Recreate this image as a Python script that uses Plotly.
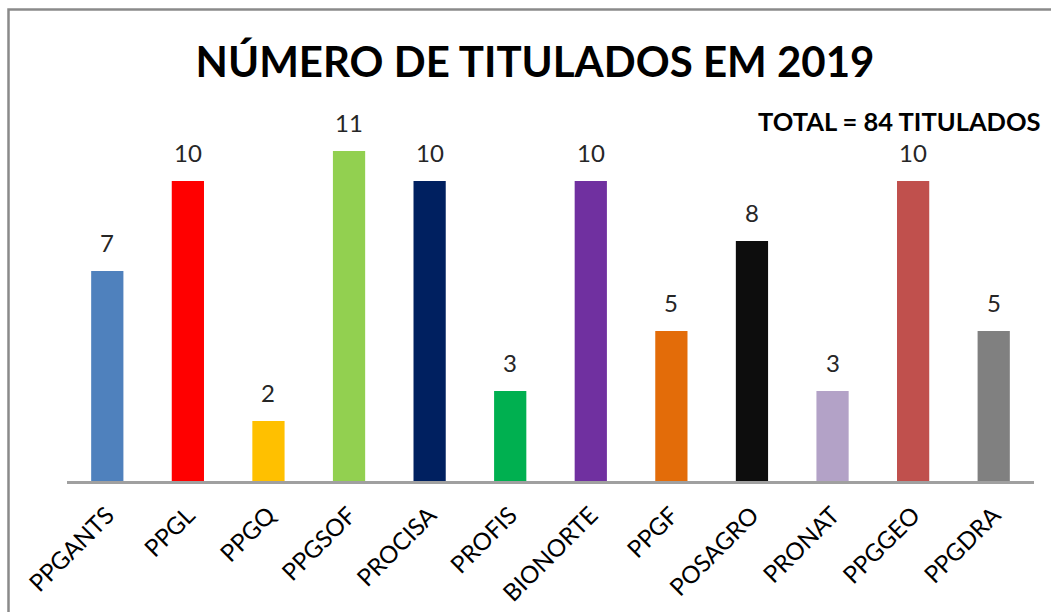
import plotly.graph_objects as go

categories = ["PPGANTS", "PPGL", "PPGQ", "PPGSOF", "PROCISA", "PROFIS",
              "BIONORTE", "PPGF", "POSAGRO", "PRONAT", "PPGGEO", "PPGDRA"]
values = [7, 10, 2, 11, 10, 3, 10, 5, 8, 3, 10, 5]
colors = ["#4F81BD", "#FF0000", "#FFC000", "#92D050", "#002060", "#00B050",
          "#7030A0", "#E36C09", "#0D0D0D", "#B3A2C7", "#C0504D", "#808080"]
title_text = "NÚMERO DE TITULADOS EM 2019"
total_text = "TOTAL = 84 TITULADOS"

W, H = 1051, 612
L, R, T, B = 67, 17, 100, 131
pw, ph = W - L - R, H - T - B

def px_x(x):
    return (x - L) / pw

def px_y(y):
    return (H - B - y) / ph

fig = go.Figure(go.Bar(
    x=categories, y=values,
    marker=dict(color=colors, line=dict(width=0)),
    hoverinfo="x+y",
))

value_annotations = [
    dict(x=c, y=v, xref="x", yref="y", text=str(v), showarrow=False,
         xanchor="center", yanchor="bottom", yshift=12,
         font=dict(family="Lato", size=24, color="#262626"))
    for c, v in zip(categories, values)
]

fig.update_layout(
    width=W, height=H,
    margin=dict(l=L, r=R, t=T, b=B),
    paper_bgcolor="white", plot_bgcolor="white",
    bargap=0.6,
    showlegend=False,
    title=dict(text=title_text, x=535 / W, xanchor="center",
               y=1 - 62 / H, yanchor="middle",
               font=dict(family="Lato", size=42, color="#000000", weight="bold"),
               automargin=False),
    xaxis=dict(showgrid=False, showline=True, linecolor="#A0A0A0", linewidth=2.5,
               tickangle=-45, tickfont=dict(family="Lato", size=24, color="#000000"),
               ticks="", ticklabelstandoff=8, fixedrange=True, automargin=False),
    yaxis=dict(range=[0, ph / 30], showgrid=False, showline=False, zeroline=False,
               showticklabels=False, ticks="", fixedrange=True, automargin=False),
    annotations=value_annotations + [
        dict(text="<b>" + total_text + "</b>", xref="paper", yref="paper",
             x=px_x(1043), y=px_y(121), xanchor="right", yanchor="middle",
             showarrow=False,
             font=dict(family="Lato", size=25.5, color="#000000"))],
    shapes=[dict(type="rect", xref="paper", yref="paper",
                 x0=px_x(8.5), x1=px_x(1070), y0=px_y(640), y1=px_y(9.5),
                 line=dict(color="#8A8A8A", width=2.5), layer="above")],
)

fig.write_html("out.html", config={"displayModeBar": False},
               post_script="document.body.style.margin='0';document.body.style.overflow='hidden';")
